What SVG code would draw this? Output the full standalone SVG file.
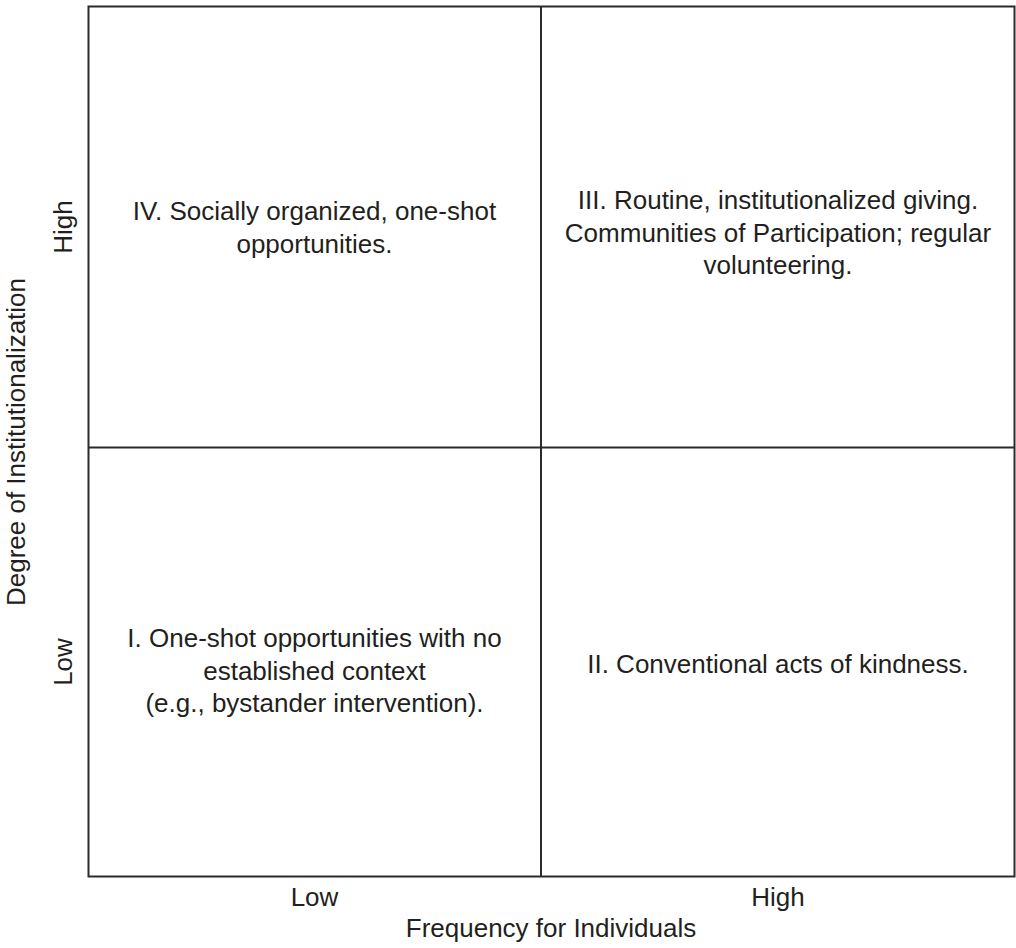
<svg xmlns="http://www.w3.org/2000/svg" width="1016" height="948" viewBox="0 0 1016 948">
<style>
  .t { font-family: "Liberation Sans", Arial, Helvetica, sans-serif; font-size: 26px; fill: #231f20; text-anchor: middle; }
  .ln { stroke: #2b2b2b; stroke-width: 2; fill: none; }
</style>
<rect width="1016" height="948" fill="#ffffff"/>
<g id="grid">
  <rect class="ln" x="88.5" y="6.5" width="926" height="870"/>
  <line class="ln" x1="541" y1="6.5" x2="541" y2="876.5"/>
  <line class="ln" x1="88.5" y1="447.5" x2="1014.5" y2="447.5"/>
</g>
<g id="q4">
  <text class="t" x="314.5" y="220">IV. Socially organized, one-shot</text>
  <text class="t" x="314.5" y="252.5">opportunities.</text>
</g>
<g id="q3">
  <text class="t" x="778" y="209">III. Routine, institutionalized giving.</text>
  <text class="t" x="778" y="241.5">Communities of Participation; regular</text>
  <text class="t" x="778" y="274">volunteering.</text>
</g>
<g id="q1">
  <text class="t" x="314.5" y="647">I. One-shot opportunities with no</text>
  <text class="t" x="314.5" y="679.5">established context</text>
  <text class="t" x="314.5" y="712">(e.g., bystander intervention).</text>
</g>
<g id="q2">
  <text class="t" x="778" y="673">II. Conventional acts of kindness.</text>
</g>
<g id="axes">
  <text class="t" x="314.5" y="906">Low</text>
  <text class="t" x="778" y="906">High</text>
  <text class="t" x="551" y="937">Frequency for Individuals</text>
  <text class="t" transform="translate(72,227) rotate(-90)">High</text>
  <text class="t" transform="translate(72,662) rotate(-90)">Low</text>
  <text class="t" transform="translate(25,442) rotate(-90)">Degree of Institutionalization</text>
</g>
<g id="connectors"></g>
</svg>
